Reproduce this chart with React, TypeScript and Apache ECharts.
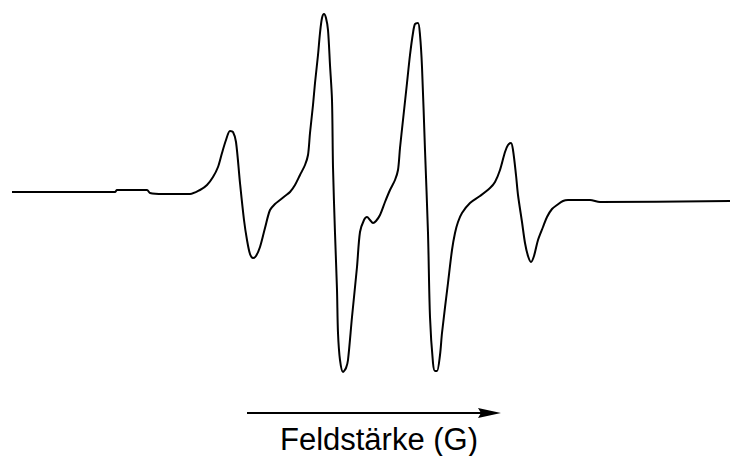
import React, { useEffect, useRef } from "react";
import * as echarts from "echarts";

// Magnetic field position (arbitrary units, left to right)
const fieldG: number[] = [
  0, 103, 105, 135, 138, 151, 178, 188, 195, 201, 206, 210, 214, 218, 221, 224,
  228, 232, 235, 238, 241, 244, 248, 253, 258, 263, 268, 273, 278, 283, 288, 293,
  296, 298, 301, 303, 306, 308, 310, 312, 314, 316, 318, 320, 321, 323, 325, 326,
  328, 331, 334, 336, 340, 345, 348, 352, 355, 358, 361, 364, 368, 373, 378, 383,
  386, 388, 391, 395, 398, 401, 403, 406, 408, 410, 413, 416, 418, 421, 423, 425,
  428, 430, 436, 440, 443, 446, 450, 458, 468, 478, 483, 488, 493, 496, 499, 501,
  504, 506, 510, 513, 516, 519, 522, 526, 531, 535, 540, 545, 551, 556, 578, 588,
  718,
];

// EPR first-derivative signal intensity (arbitrary units)
const signal: number[] = [
  8, 8, 10, 10, 7, 6, 6, 10, 15, 23, 33, 47, 60, 69, 68, 58,
  17, -20, -40, -54, -58, -56, -47, -28, -10, -4, 0, 4, 8, 15, 25, 35,
  45, 67, 95, 117, 145, 167, 182, 186, 182, 170, 135, 100, 33, -33, -90, -133,
  -160, -172, -168, -160, -117, -67, -32, -20, -17, -20, -23, -21, -15, -2, 10, 20,
  30, 52, 80, 117, 145, 167, 176, 177, 165, 133, 50, -33, -117, -163, -171, -171,
  -155, -133, -83, -50, -33, -22, -13, -3, 4, 12, 18, 30, 48, 55, 57, 50,
  25, 5, -22, -43, -56, -62, -56, -40, -27, -17, -9, -5, -1, 0, 0, -2,
  -1,
];

const axisLabel = "Feldstärke (G)";

export default function App() {
  const ref = useRef<HTMLDivElement>(null);
  useEffect(() => {
    if (!ref.current) return;
    const chart = echarts.init(ref.current, undefined, { renderer: "svg" });
    const data = fieldG.map((x, i) => [x, signal[i]]);
    chart.setOption({
      animation: false,
      backgroundColor: "#ffffff",
      grid: { left: 12, right: 0, top: 0, bottom: 56 },
      xAxis: {
        type: "value",
        min: 0,
        max: 718,
        show: false,
      },
      yAxis: {
        type: "value",
        min: -200,
        max: 200,
        show: false,
      },
      series: [
        {
          type: "line",
          data,
          showSymbol: false,
          smooth: 0.3,
          lineStyle: { color: "#000000", width: 2 },
        },
      ],
      graphic: [
        {
          type: "line",
          shape: { x1: 247, y1: 413, x2: 482, y2: 413 },
          style: { stroke: "#000000", lineWidth: 2 },
        },
        {
          type: "polygon",
          shape: { points: [[478, 408], [501, 413], [478, 418], [481, 413]] },
          style: { fill: "#000000" },
        },
        {
          type: "text",
          x: 379,
          y: 439,
          style: {
            text: axisLabel,
            font: '31px "Liberation Sans", Arial, sans-serif',
            fill: "#000000",
            align: "center",
            verticalAlign: "middle",
          },
        },
      ],
    });
    return () => chart.dispose();
  }, []);
  return (
    <div
      ref={ref}
      style={{ width: 730, height: 456, position: "absolute", left: 0, top: 0 }}
    />
  );
}
